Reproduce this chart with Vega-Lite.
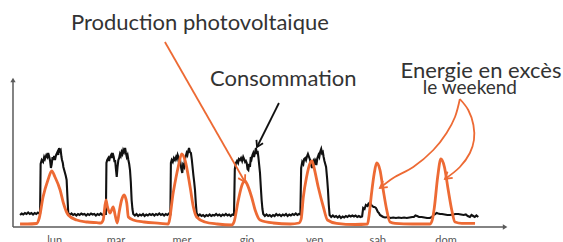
{
  "$schema": "https://vega.github.io/schema/vega-lite/v6.json",
  "width": 563,
  "height": 242,
  "autosize": {"type": "none"},
  "padding": 0,
  "background": "white",
  "config": {"view": {"stroke": null}},
  "datasets": {
    "consumption": [
      {"h":0.2,"v":1.2},{"h":0.8,"v":1.35},{"h":1.4,"v":1.25},{"h":2.0,"v":1.4},{"h":2.6,"v":1.3},{"h":3.2,"v":1.45},{"h":3.8,"v":1.3},{"h":4.4,"v":1.4},{"h":5.0,"v":1.25},{"h":5.6,"v":1.4},{"h":6.2,"v":1.3},{"h":6.8,"v":1.45},{"h":7.3,"v":1.35},{"h":7.6,"v":1.4},
      {"h":7.8,"v":6.3},{"h":8.2,"v":6.7},{"h":8.7,"v":6.5},{"h":9.1,"v":7.0},{"h":9.4,"v":6.8},{"h":9.9,"v":7.2},{"h":10.3,"v":7.0},{"h":10.6,"v":7.4},{"h":11.0,"v":7.0},{"h":11.3,"v":6.6},{"h":11.6,"v":5.9},{"h":11.9,"v":6.3},{"h":12.2,"v":7.0},{"h":12.5,"v":6.7},{"h":12.8,"v":7.1},{"h":13.1,"v":6.7},{"h":13.5,"v":7.2},{"h":14.0,"v":7.5},{"h":14.3,"v":7.2},{"h":14.6,"v":7.9},{"h":14.9,"v":7.6},{"h":15.2,"v":7.7},{"h":15.5,"v":7.0},{"h":15.7,"v":6.7},{"h":16.0,"v":6.4},{"h":16.2,"v":6.0},{"h":16.5,"v":5.7},{"h":16.8,"v":5.4},{"h":17.1,"v":5.1},{"h":17.4,"v":4.7},{"h":17.7,"v":3.0},{"h":18.0,"v":1.4},
      {"h":18.6,"v":1.2},{"h":19.2,"v":1.35},{"h":19.8,"v":1.2},{"h":20.4,"v":1.3},{"h":21.0,"v":1.15},{"h":21.6,"v":1.3},{"h":22.2,"v":1.2},{"h":22.8,"v":1.35},{"h":23.4,"v":1.25},{"h":24.0,"v":1.3},{"h":24.6,"v":1.15},{"h":25.2,"v":1.3},{"h":25.8,"v":1.2},{"h":26.4,"v":1.35},{"h":27.0,"v":1.25},{"h":27.6,"v":1.3},{"h":28.2,"v":1.15},{"h":28.8,"v":1.3},{"h":29.4,"v":1.2},{"h":30.0,"v":1.35},{"h":30.6,"v":1.2},{"h":31.2,"v":1.3},{"h":31.9,"v":1.3},
      {"h":32.1,"v":6.4},{"h":32.4,"v":6.7},{"h":32.8,"v":6.9},{"h":33.1,"v":6.6},{"h":33.4,"v":7.0},{"h":33.8,"v":7.2},{"h":34.1,"v":6.9},{"h":34.4,"v":7.4},{"h":34.8,"v":7.0},{"h":35.1,"v":6.5},{"h":35.3,"v":6.7},{"h":35.6,"v":5.8},{"h":35.9,"v":5.0},{"h":36.2,"v":6.0},{"h":36.5,"v":6.7},{"h":36.8,"v":6.9},{"h":37.1,"v":7.3},{"h":37.4,"v":7.1},{"h":37.7,"v":7.5},{"h":38.0,"v":7.3},{"h":38.3,"v":7.7},{"h":38.6,"v":7.5},{"h":39.0,"v":7.9},{"h":39.3,"v":7.4},{"h":39.6,"v":7.0},{"h":39.9,"v":7.2},{"h":40.2,"v":6.7},{"h":40.5,"v":6.3},{"h":40.8,"v":5.7},{"h":41.1,"v":4.5},{"h":41.4,"v":2.7},{"h":41.7,"v":1.8},{"h":42.0,"v":1.3},
      {"h":42.6,"v":1.15},{"h":43.2,"v":1.3},{"h":43.8,"v":1.1},{"h":44.4,"v":1.25},{"h":45.0,"v":1.15},{"h":45.6,"v":1.3},{"h":46.2,"v":1.1},{"h":46.8,"v":1.25},{"h":47.4,"v":1.15},{"h":48.0,"v":1.3},{"h":48.6,"v":1.2},{"h":49.2,"v":1.3},{"h":49.8,"v":1.15},{"h":50.4,"v":1.3},{"h":51.0,"v":1.2},{"h":51.6,"v":1.35},{"h":52.2,"v":1.2},{"h":52.8,"v":1.3},{"h":53.4,"v":1.15},{"h":54.0,"v":1.3},{"h":54.6,"v":1.2},{"h":55.2,"v":1.35},{"h":55.7,"v":1.3},
      {"h":55.9,"v":6.4},{"h":56.2,"v":6.7},{"h":56.6,"v":6.5},{"h":57.0,"v":6.9},{"h":57.4,"v":6.7},{"h":57.8,"v":7.0},{"h":58.1,"v":6.8},{"h":58.4,"v":7.2},{"h":58.8,"v":6.9},{"h":59.1,"v":6.6},{"h":59.3,"v":6.7},{"h":59.7,"v":5.9},{"h":60.1,"v":5.4},{"h":60.4,"v":6.2},{"h":60.8,"v":6.0},{"h":61.1,"v":6.8},{"h":61.4,"v":7.1},{"h":61.7,"v":7.4},{"h":62.0,"v":7.2},{"h":62.3,"v":7.6},{"h":62.6,"v":7.9},{"h":62.9,"v":7.5},{"h":63.3,"v":7.4},{"h":63.6,"v":6.8},{"h":63.9,"v":6.0},{"h":64.2,"v":5.2},{"h":64.5,"v":4.5},{"h":64.8,"v":3.7},{"h":65.1,"v":2.4},{"h":65.4,"v":1.4},
      {"h":66.0,"v":1.1},{"h":66.6,"v":1.25},{"h":67.2,"v":1.1},{"h":67.8,"v":1.2},{"h":68.4,"v":1.05},{"h":69.0,"v":1.2},{"h":69.6,"v":1.1},{"h":70.2,"v":1.25},{"h":70.8,"v":1.1},{"h":71.4,"v":1.2},{"h":72.0,"v":1.15},{"h":72.6,"v":1.3},{"h":73.2,"v":1.15},{"h":73.8,"v":1.25},{"h":74.4,"v":1.1},{"h":75.0,"v":1.25},{"h":75.6,"v":1.15},{"h":76.2,"v":1.3},{"h":76.8,"v":1.15},{"h":77.4,"v":1.25},{"h":78.0,"v":1.1},{"h":78.6,"v":1.25},{"h":79.2,"v":1.2},
      {"h":79.5,"v":5.8},{"h":79.9,"v":6.4},{"h":80.3,"v":6.6},{"h":80.7,"v":6.4},{"h":81.0,"v":6.8},{"h":81.4,"v":6.7},{"h":81.8,"v":6.9},{"h":82.2,"v":6.6},{"h":82.6,"v":7.0},{"h":82.9,"v":6.8},{"h":83.3,"v":6.5},{"h":83.6,"v":6.6},{"h":83.9,"v":6.4},{"h":84.2,"v":5.8},{"h":84.5,"v":5.7},{"h":84.8,"v":6.3},{"h":85.1,"v":6.0},{"h":85.4,"v":7.0},{"h":85.7,"v":6.8},{"h":86.0,"v":7.2},{"h":86.3,"v":7.4},{"h":86.6,"v":7.0},{"h":87.0,"v":7.5},{"h":87.3,"v":7.9},{"h":87.6,"v":7.3},{"h":87.9,"v":7.6},{"h":88.2,"v":7.0},{"h":88.5,"v":6.2},{"h":88.8,"v":5.4},{"h":89.1,"v":4.0},{"h":89.4,"v":2.7},{"h":89.7,"v":1.8},{"h":90.0,"v":1.3},
      {"h":90.6,"v":1.1},{"h":91.2,"v":1.25},{"h":91.8,"v":1.1},{"h":92.4,"v":1.2},{"h":93.0,"v":1.05},{"h":93.6,"v":1.2},{"h":94.2,"v":1.1},{"h":94.8,"v":1.3},{"h":95.4,"v":1.15},{"h":96.0,"v":1.25},{"h":96.6,"v":1.1},{"h":97.2,"v":1.25},{"h":97.8,"v":1.15},{"h":98.4,"v":1.3},{"h":99.0,"v":1.1},{"h":99.6,"v":1.25},{"h":100.2,"v":1.15},{"h":100.8,"v":1.3},{"h":101.4,"v":1.2},{"h":102.0,"v":1.35},{"h":102.6,"v":1.2},{"h":103.2,"v":1.3},{"h":103.7,"v":1.25},
      {"h":104.0,"v":5.9},{"h":104.4,"v":6.5},{"h":104.8,"v":6.3},{"h":105.1,"v":6.8},{"h":105.5,"v":6.9},{"h":105.8,"v":6.7},{"h":106.2,"v":7.1},{"h":106.5,"v":7.3},{"h":106.9,"v":7.0},{"h":107.3,"v":6.7},{"h":107.6,"v":6.3},{"h":108.0,"v":5.9},{"h":108.3,"v":6.5},{"h":108.7,"v":6.7},{"h":109.0,"v":6.4},{"h":109.3,"v":6.6},{"h":109.6,"v":6.2},{"h":110.0,"v":6.9},{"h":110.4,"v":7.2},{"h":110.7,"v":7.0},{"h":111.0,"v":7.5},{"h":111.4,"v":7.8},{"h":111.7,"v":7.4},{"h":112.0,"v":7.5},{"h":112.3,"v":7.0},{"h":112.6,"v":6.6},{"h":112.9,"v":6.3},{"h":113.2,"v":6.0},{"h":113.6,"v":4.8},{"h":113.9,"v":3.7},{"h":114.2,"v":2.2},{"h":114.5,"v":1.2},
      {"h":115.1,"v":1.0},{"h":115.7,"v":1.15},{"h":116.3,"v":1.0},{"h":116.9,"v":1.1},{"h":117.5,"v":0.95},{"h":118.1,"v":1.1},{"h":118.7,"v":0.9},{"h":119.3,"v":1.05},{"h":119.9,"v":0.95},{"h":120.5,"v":1.1},{"h":121.1,"v":1.0},{"h":121.7,"v":1.15},{"h":122.3,"v":1.05},{"h":122.9,"v":1.15},{"h":123.5,"v":1.05},{"h":124.1,"v":1.15},{"h":124.7,"v":1.0},{"h":125.3,"v":1.1},{"h":125.9,"v":1.0},{"h":126.5,"v":1.05},
      {"h":126.9,"v":1.9},{"h":127.4,"v":1.8},{"h":127.9,"v":2.2},{"h":128.4,"v":2.1},{"h":128.8,"v":2.3},{"h":129.2,"v":2.1},{"h":129.5,"v":2.4},{"h":129.9,"v":2.2},{"h":130.3,"v":2.1},{"h":130.7,"v":2.0},{"h":131.1,"v":2.0},{"h":131.6,"v":1.9},{"h":132.0,"v":1.7},{"h":132.3,"v":1.5},{"h":132.7,"v":1.4},{"h":133.1,"v":1.2},{"h":133.7,"v":1.1},{"h":134.3,"v":1.0},
      {"h":135.0,"v":0.95},{"h":136.0,"v":1.0},{"h":137.0,"v":0.9},{"h":138.0,"v":0.95},{"h":139.0,"v":0.9},{"h":140.0,"v":0.95},{"h":141.0,"v":0.9},{"h":142.0,"v":0.95},{"h":143.0,"v":0.9},{"h":144.0,"v":0.95},{"h":145.0,"v":1.0},{"h":145.6,"v":1.0},{"h":146.2,"v":1.15},{"h":146.8,"v":1.1},{"h":147.5,"v":1.0},{"h":148.5,"v":1.0},{"h":149.5,"v":0.95},{"h":150.5,"v":0.9},{"h":151.5,"v":0.9},{"h":152.3,"v":1.0},{"h":152.8,"v":1.2},{"h":153.5,"v":1.3},{"h":154.0,"v":1.4},{"h":154.6,"v":1.35},{"h":155.3,"v":1.3},{"h":156.0,"v":1.3},{"h":157.0,"v":1.25},{"h":158.0,"v":1.2},{"h":159.0,"v":1.2},{"h":160.0,"v":1.25},{"h":161.0,"v":1.3},{"h":162.0,"v":1.3},{"h":163.0,"v":1.25},{"h":164.0,"v":1.2},{"h":164.8,"v":1.25},{"h":165.5,"v":1.1},{"h":166.3,"v":1.0},{"h":166.9,"v":1.2},{"h":167.5,"v":1.1},{"h":168.1,"v":1.0},{"h":168.7,"v":1.15},{"h":169.4,"v":1.0}
    ],
    "production": [
      {"h":0.2,"v":0.3},{"h":3,"v":0.3},{"h":6.3,"v":0.35},{"h":7.3,"v":0.9},{"h":8.7,"v":3.0},{"h":10.5,"v":4.7},{"h":11.9,"v":5.6},{"h":13.1,"v":5.0},{"h":15.0,"v":3.7},{"h":16.2,"v":2.4},{"h":18.0,"v":1.2},{"h":21.1,"v":0.7},{"h":25,"v":0.5},{"h":28.5,"v":0.43},
      {"h":30.0,"v":0.4},{"h":30.9,"v":0.7},{"h":31.9,"v":2.7},{"h":32.5,"v":2.0},{"h":33.4,"v":1.4},{"h":34.6,"v":2.0},{"h":35.3,"v":1.2},{"h":36.1,"v":0.4},{"h":36.8,"v":1.5},{"h":37.7,"v":2.7},{"h":38.6,"v":3.2},{"h":39.6,"v":2.4},{"h":40.2,"v":1.0},{"h":42.0,"v":0.7},{"h":46,"v":0.5},{"h":51.9,"v":0.37},
      {"h":54.9,"v":0.3},{"h":56.8,"v":3.5},{"h":58.6,"v":6.0},{"h":59.9,"v":7.3},{"h":61.1,"v":6.7},{"h":63.0,"v":4.0},{"h":64.2,"v":2.0},{"h":65.4,"v":1.0},{"h":68.5,"v":0.5},{"h":73,"v":0.3},{"h":78.3,"v":0.2},
      {"h":79.2,"v":0.5},{"h":80.8,"v":2.7},{"h":82.3,"v":4.3},{"h":83.3,"v":4.6},{"h":84.0,"v":4.3},{"h":85.7,"v":3.0},{"h":87.0,"v":1.7},{"h":88.8,"v":0.7},{"h":93.7,"v":0.4},{"h":100,"v":0.3},
      {"h":103.2,"v":0.4},{"h":104.0,"v":0.8},{"h":104.8,"v":3.0},{"h":106.0,"v":5.0},{"h":107.3,"v":6.4},{"h":108.0,"v":6.6},{"h":108.6,"v":6.1},{"h":110.3,"v":4.0},{"h":112.2,"v":2.0},{"h":113.7,"v":0.7},{"h":117.1,"v":0.37},{"h":123.9,"v":0.25},
      {"h":128.5,"v":0.3},{"h":129.0,"v":1.0},{"h":130.0,"v":3.4},{"h":131.0,"v":5.4},{"h":131.9,"v":6.4},{"h":133.1,"v":5.7},{"h":134.3,"v":3.7},{"h":135.6,"v":1.7},{"h":136.8,"v":0.5},{"h":138.7,"v":0.37},{"h":145,"v":0.3},
      {"h":151.6,"v":0.3},{"h":152.5,"v":0.8},{"h":153.2,"v":2.0},{"h":154.4,"v":5.0},{"h":155.6,"v":6.8},{"h":156.9,"v":6.0},{"h":158.3,"v":3.7},{"h":159.6,"v":1.7},{"h":160.8,"v":0.5},{"h":163.3,"v":0.37},{"h":168.2,"v":0.37}
    ],
    "axes": [
      {"axis":"y","h":-2.4,"v":0,"h2":-2.4,"v2":14.7},
      {"axis":"x","h":-2.4,"v":0,"h2":179.3,"v2":0}
    ],
    "arrows": [
      {"id":"A","seq":0,"h":53.7,"v":18.5},{"id":"A","seq":1,"h":83.26,"v":4.5},
      {"id":"B","seq":0,"h":95.8,"v":12.4},{"id":"B","seq":1,"h":87.7,"v":8.0},
      {"id":"C","seq":0,"h":162.6,"v":12.8},{"id":"C","seq":1,"h":160.8,"v":11.0},{"id":"C","seq":2,"h":157.7,"v":9.4},{"id":"C","seq":3,"h":152.8,"v":7.7},{"id":"C","seq":4,"h":145.4,"v":6.0},{"id":"C","seq":5,"h":138.0,"v":4.9},{"id":"C","seq":6,"h":133.1,"v":3.9},
      {"id":"D","seq":0,"h":162.6,"v":12.8},{"id":"D","seq":1,"h":165.7,"v":11.7},{"id":"D","seq":2,"h":167.6,"v":10.2},{"id":"D","seq":3,"h":167.8,"v":8.7},{"id":"D","seq":4,"h":166.3,"v":7.4},{"id":"D","seq":5,"h":162.6,"v":6.0},{"id":"D","seq":6,"h":157.1,"v":4.8}
    ],
    "tips": [
      {"id":"A","h":83.26,"v":4.5},
      {"id":"B","h":87.7,"v":8.0},
      {"id":"C","h":133.1,"v":3.9},
      {"id":"D","h":157.1,"v":4.8}
    ],
    "notes": [
      {"label":"Production photovoltaique","h":66.6,"v":19.7},
      {"label":"Consommation","h":97.4,"v":14.15},
      {"label":"Energie en excès","h":170.4,"v":14.87}
    ],
    "subnotes": [
      {"label":"le weekend","h":166.3,"v":13.27}
    ],
    "days": [
      {"day":"lun","h":13,"v":-1.7},
      {"day":"mar","h":35.6,"v":-1.7},
      {"day":"mer","h":60,"v":-1.7},
      {"day":"gio","h":84,"v":-1.7},
      {"day":"ven","h":109,"v":-1.7},
      {"day":"sab","h":132.3,"v":-1.7},
      {"day":"dom","h":157.5,"v":-1.7}
    ]
  },
  "encoding": {
    "x": {"field": "h", "type": "quantitative", "scale": {"domain": [-7.2, 200.68], "nice": false, "zero": false}, "axis": null},
    "y": {"field": "v", "type": "quantitative", "scale": {"domain": [-1.5, 22.7], "nice": false, "zero": false}, "axis": null}
  },
  "layer": [
    {
      "data": {"name": "axes"},
      "mark": {"type": "rule", "color": "#5a5a5a", "strokeWidth": 1.5},
      "encoding": {"x2": {"field": "h2"}, "y2": {"field": "v2"}}
    },
    {
      "data": {"name": "axes"},
      "mark": {"type": "point", "filled": true, "color": "#5a5a5a", "size": 28, "opacity": 1},
      "encoding": {
        "x": {"field": "h2", "type": "quantitative"},
        "y": {"field": "v2", "type": "quantitative"},
        "shape": {"field": "axis", "type": "nominal", "scale": {"domain": ["x", "y"], "range": ["triangle-right", "triangle-up"]}, "legend": null}
      }
    },
    {
      "data": {"name": "consumption"},
      "mark": {"type": "line", "color": "#111111", "strokeWidth": 2.1, "interpolate": "linear"}
    },
    {
      "data": {"name": "production"},
      "mark": {"type": "line", "color": "#ED6A34", "strokeWidth": 2.8, "interpolate": "monotone"}
    },
    {
      "data": {"name": "arrows"},
      "transform": [{"filter": "datum.id != 'B'"}],
      "mark": {"type": "line", "color": "#ED6A34", "strokeWidth": 1.8, "interpolate": "catmull-rom"},
      "encoding": {"detail": {"field": "id"}, "order": {"field": "seq", "type": "quantitative"}}
    },
    {
      "data": {"name": "arrows"},
      "transform": [{"filter": "datum.id == 'B'"}],
      "mark": {"type": "line", "color": "#111111", "strokeWidth": 1.8},
      "encoding": {"order": {"field": "seq", "type": "quantitative"}}
    },
    {
      "data": {"name": "tips"},
      "transform": [{"filter": "datum.id == 'A'"}],
      "mark": {"type": "point", "shape": "M-1,-0.6L0,0L-1,0.6", "filled": false, "color": "#ED6A34", "strokeWidth": 1.8, "size": 180, "angle": 60.5, "opacity": 1}
    },
    {
      "data": {"name": "tips"},
      "transform": [{"filter": "datum.id == 'B'"}],
      "mark": {"type": "point", "shape": "M-1,-0.6L0,0L-1,0.6", "filled": false, "color": "#111111", "strokeWidth": 1.8, "size": 150, "angle": 116.3, "opacity": 1}
    },
    {
      "data": {"name": "tips"},
      "transform": [{"filter": "datum.id == 'C'"}],
      "mark": {"type": "point", "shape": "M-1,-0.6L0,0L-1,0.6", "filled": false, "color": "#ED6A34", "strokeWidth": 1.8, "size": 180, "angle": 143, "opacity": 1}
    },
    {
      "data": {"name": "tips"},
      "transform": [{"filter": "datum.id == 'D'"}],
      "mark": {"type": "point", "shape": "M-1,-0.6L0,0L-1,0.6", "filled": false, "color": "#ED6A34", "strokeWidth": 1.8, "size": 180, "angle": 140, "opacity": 1}
    },
    {
      "data": {"name": "notes"},
      "mark": {"type": "text", "font": "Lato", "fontSize": 22, "fill": "#333333", "align": "center", "baseline": "alphabetic"},
      "encoding": {"text": {"field": "label"}}
    },
    {
      "data": {"name": "subnotes"},
      "mark": {"type": "text", "font": "Lato", "fontSize": 19, "fill": "#333333", "align": "center", "baseline": "alphabetic"},
      "encoding": {"text": {"field": "label"}}
    },
    {
      "data": {"name": "days"},
      "mark": {"type": "text", "font": "Lato", "fontSize": 11, "fill": "#555555", "align": "center", "baseline": "alphabetic"},
      "encoding": {"text": {"field": "day"}}
    }
  ]
}
